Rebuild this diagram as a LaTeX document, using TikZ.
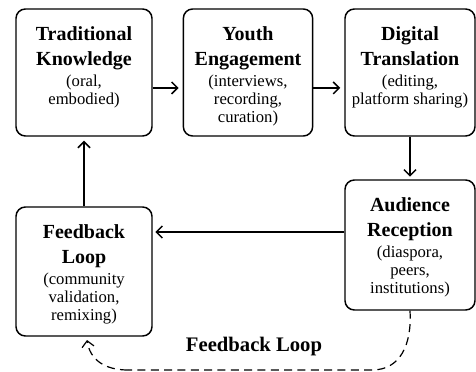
\documentclass[tikz,border=0pt]{standalone}
\usepackage{fontspec}
\setmainfont{Liberation Serif}
\usetikzlibrary{arrows.meta}

\tikzset{every picture/.style={line width=1.1pt}}
\tikzset{
  stagebox/.style={draw, rounded corners=7pt, inner sep=0pt},
  flowline/.style={-{Straight Barb[length=4.5pt,width=9pt]}},
}
% box content: width, height, title, subtitle
\newcommand{\stagetext}[4]{\parbox[c][#2][t]{#1}{\centering\vspace*{13.5pt}%
  {\fontsize{15}{18.75}\selectfont\bfseries #3\par}\vspace{2pt}%
  {\fontsize{12.5}{13.5}\selectfont #4\par}}}

\begin{document}
\begin{tikzpicture}[x=0.75pt,y=0.75pt,yscale=-1,xscale=1]
\path[use as bounding box] (0,0) rectangle (476,372);

% Stages
\node[stagebox] (trad) at (84,72.5) {\stagetext{102pt}{95.25pt}{Traditional\\Knowledge}{(oral,\\embodied)}};
\node[stagebox] (youth) at (248,72.5) {\stagetext{97pt}{95.25pt}{Youth\\Engagement}{(interviews,\\recording,\\curation)}};
\node[stagebox] (digi) at (410,72.5) {\stagetext{97.5pt}{95.25pt}{Digital\\Translation}{(editing,\\platform sharing)}};
\node[stagebox] (aud) at (410,245) {\stagetext{97.5pt}{97.5pt}{Audience\\Reception}{(diaspora,\\peers,\\institutions)}};
\node[stagebox] (loop) at (84,271.5) {\stagetext{102pt}{96.75pt}{Feedback\\Loop}{(community\\validation,\\remixing)}};

%Straight Lines
\draw[flowline, shorten >=3pt] ([yshift=11.6pt]trad.east) -- ([yshift=11.6pt]trad.east -| youth.west);
\draw[flowline, shorten >=3pt] ([yshift=11.6pt]youth.east) -- ([yshift=11.6pt]youth.east -| digi.west);
\draw[flowline, shorten >=2pt] (digi.south) -- (aud.north);
\draw[flowline, shorten >=2pt] ([yshift=-9.75pt]aud.west) -- ([yshift=-9.75pt]aud.west -| loop.east);
\draw[flowline, shorten >=3pt] (loop.north) -- (trad.south);

%Dashed return path
\coordinate (fbR) at (372,370);
\coordinate (fbL) at (128,370);
\coordinate (fbEnd) at (87,340);
\draw[dashed, dash pattern=on 6pt off 4pt, line width=0.9pt] (aud.south) .. controls (412,345) and (400,370) .. (fbR) -- (fbL);
\draw[dashed, dash pattern=on 6pt off 4pt, line width=0.9pt, flowline] (fbL) .. controls (105,370) and (90,360) .. (fbEnd);

% Text Node
\node (fblabel) at (254,347) {\fontsize{15.5}{18}\selectfont\bfseries Feedback Loop};

\end{tikzpicture}
\end{document}
